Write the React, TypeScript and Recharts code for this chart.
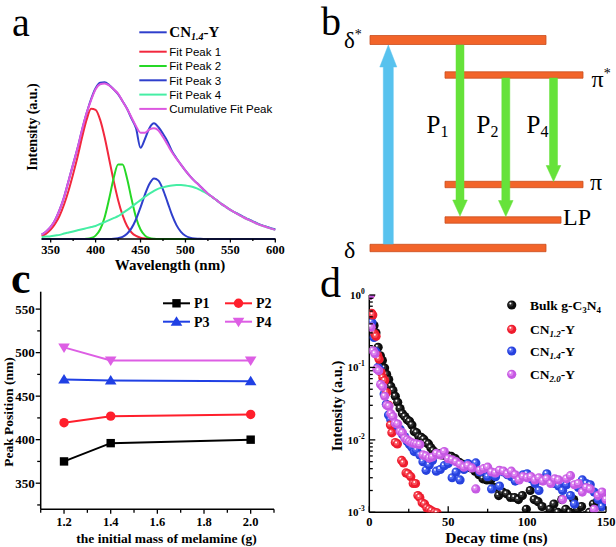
import React from 'react';
import {
  LineChart, Line, XAxis, YAxis, ScatterChart, Scatter, ComposedChart, ReferenceArea, ReferenceLine,
} from 'recharts';

const SERIF = '"Liberation Serif", "Times New Roman", serif';
const SANS = '"Liberation Sans", Arial, sans-serif';

// ---------- (a) PL spectrum of CN1.4-Y and the Gaussian fit
const wavelength = [340, 345, 350, 355, 360, 365, 370, 375, 380, 385, 390, 395, 400, 405, 410, 415, 420, 425, 430, 435, 440, 445, 450, 455, 460, 465, 470, 475, 480, 485, 490, 495, 500, 505, 510, 515, 520, 525, 530, 535, 540, 545, 550, 555, 560, 565, 570, 575, 580, 585, 590, 595, 600];
const cn14y = [0.02, 0.035, 0.056, 0.088, 0.135, 0.195, 0.27, 0.345, 0.42, 0.505, 0.58, 0.645, 0.695, 0.72, 0.722, 0.71, 0.69, 0.668, 0.635, 0.6, 0.555, 0.51, 0.42, 0.462, 0.512, 0.533, 0.515, 0.485, 0.45, 0.405, 0.372, 0.343, 0.315, 0.29, 0.268, 0.249, 0.228, 0.209, 0.193, 0.178, 0.162, 0.148, 0.134, 0.123, 0.112, 0.101, 0.091, 0.081, 0.072, 0.064, 0.057, 0.05, 0.045];
const fitPeak1 = [0.013, 0.025, 0.043, 0.07, 0.108, 0.16, 0.225, 0.3, 0.38, 0.47, 0.55, 0.6, 0.595, 0.55, 0.47, 0.37, 0.27, 0.18, 0.11, 0.06, 0.03, 0.014, 0.006, 0.002, 0, 0, 0, 0, 0, 0, 0, 0, 0, 0, 0, 0, 0, 0, 0, 0, 0, 0, 0, 0, 0, 0, 0, 0, 0, 0, 0, 0, 0];
const fitPeak2 = [0, 0, 0, 0, 0, 0, 0, 0, 0, 0, 0.001, 0.0045, 0.0155, 0.0435, 0.099, 0.184, 0.279, 0.343, 0.343, 0.279, 0.184, 0.099, 0.0435, 0.0155, 0.0045, 0.001, 0, 0, 0, 0, 0, 0, 0, 0, 0, 0, 0, 0, 0, 0, 0, 0, 0, 0, 0, 0, 0, 0, 0, 0, 0, 0, 0];
const fitPeak3 = [0, 0, 0, 0, 0, 0, 0, 0, 0, 0, 0, 0, 0, 0, 0, 0, 0.001, 0.004, 0.01, 0.024, 0.05, 0.091, 0.146, 0.206, 0.255, 0.279, 0.269, 0.228, 0.17, 0.111, 0.064, 0.033, 0.015, 0.006, 0.002, 0.001, 0, 0, 0, 0, 0, 0, 0, 0, 0, 0, 0, 0, 0, 0, 0, 0, 0];
const fitPeak4 = [0.009, 0.011, 0.013, 0.016, 0.019, 0.025, 0.03, 0.035, 0.04, 0.045, 0.05, 0.055, 0.06, 0.069, 0.078, 0.087, 0.096, 0.105, 0.119, 0.133, 0.148, 0.164, 0.179, 0.195, 0.209, 0.222, 0.232, 0.238, 0.243, 0.247, 0.249, 0.249, 0.247, 0.243, 0.237, 0.229, 0.218, 0.207, 0.192, 0.178, 0.162, 0.148, 0.134, 0.122, 0.11, 0.099, 0.089, 0.079, 0.07, 0.062, 0.055, 0.048, 0.042];
const cumulativeFit = [0.02, 0.035, 0.056, 0.088, 0.135, 0.195, 0.27, 0.345, 0.42, 0.505, 0.58, 0.64, 0.69, 0.713, 0.717, 0.708, 0.69, 0.67, 0.635, 0.6, 0.56, 0.52, 0.49, 0.49, 0.505, 0.51, 0.5, 0.47, 0.435, 0.4, 0.37, 0.343, 0.315, 0.29, 0.268, 0.249, 0.228, 0.209, 0.193, 0.178, 0.162, 0.148, 0.134, 0.122, 0.11, 0.099, 0.089, 0.079, 0.07, 0.062, 0.055, 0.048, 0.042];
const aTicks = [350, 375, 400, 425, 450, 475, 500, 525, 550, 575, 600];
const aSeries = [
  { key: 'cn', label: 'CN1.4-Y', color: '#2f3fcc' },
  { key: 'f1', label: 'Fit Peak 1', color: '#f2283e' },
  { key: 'f2', label: 'Fit Peak 2', color: '#26d826' },
  { key: 'f3', label: 'Fit Peak 3', color: '#2f3fcc' },
  { key: 'f4', label: 'Fit Peak 4', color: '#45eea4' },
  { key: 'cum', label: 'Cumulative Fit Peak', color: '#dc58e0' },
];

// ---------- (b) energy levels and transitions
const levelName = ['δ*', 'π*', 'π', 'LP', 'δ'];
const levelEnergy = [208, 173, 63.5, 28, 0];
const levelFrom = [60, 135, 135, 135, 60];
const levelTo = [236, 273, 273, 251, 236];
const transName = ['excitation', 'P1', 'P2', 'P4'];
const transX = [78.3, 150, 195.8, 243.5];
const transStart = [4, 203, 170, 170];
const transEnd = [203, 32, 31.5, 66.5];

// ---------- (c) peak positions vs melamine mass
const massG = [1.2, 1.4, 2.0];
const peakP1 = [375, 396, 400];
const peakP2 = [419.5, 427, 429];
const peakP3 = [469, 468, 467];
const peakP4 = [506, 491, 491];
const cXTicks = [1.1, 1.2, 1.3, 1.4, 1.5, 1.6, 1.7, 1.8, 1.9, 2.0, 2.1];
const cYTicks = [325, 350, 375, 400, 425, 450, 475, 500, 525, 550];

// ---------- (d) PL decay
const bulkT = [0.5, 1.8, 3.0, 4.2, 5.6, 7.0, 8.3, 9.7, 11.0, 12.3, 13.6, 15.0, 16.5, 18.0, 19.5, 21.0, 22.5, 24.0, 25.5, 27.0, 28.5, 30.0, 31.5, 33.0, 34.5, 36.0, 37.5, 39.0, 40.5, 42.0, 44, 46, 48, 50, 52, 54.5, 57, 59.5, 62, 64.5, 67, 69.5, 72, 74.5, 77, 79.5, 82, 84.5, 87, 89.5, 92, 94.5, 97, 99.5, 102, 104.5, 107, 109.5, 112, 114.5, 117, 119.5, 122, 124.5, 127, 129.5, 132, 134.5, 137, 139.5, 142, 144.5, 147, 149.5];
const bulkI = [1.0, 0.52, 0.38, 0.3, 0.19, 0.145, 0.125, 0.098, 0.08, 0.068, 0.055, 0.048, 0.04, 0.033, 0.027, 0.023, 0.021, 0.019, 0.018, 0.016, 0.013, 0.0125, 0.011, 0.0108, 0.0102, 0.0092, 0.0088, 0.0078, 0.0071, 0.0066, 0.0064, 0.0062, 0.0061, 0.006, 0.0059, 0.0055, 0.0049, 0.0046, 0.0044, 0.0041, 0.0037, 0.0033, 0.0029, 0.0028, 0.0028, 0.0022, 0.0017, 0.0019, 0.0018, 0.0016, 0.0016, 0.0015, 0.0017, 0.0011, 0.002, 0.0015, 0.0014, 0.0012, 0.0009, 0.0011, 0.0013, 0.001, 0.0015, 0.0011, 0.001, 0.0015, 0.0011, 0.0012, 0.0009, 0.001, 0.0013, 0.0014, 0.0012, 0.0017];
const cn12T = [0.5, 1.5, 2.2, 3.5, 4.3, 5.4, 6.2, 7.5, 8.6, 9.7, 11.0, 12.3, 13.4, 14.3, 16.5, 17.8, 20.5, 21.7, 23.3, 24.5, 26.3, 27.8, 29.3, 30.8, 32.0, 33.5, 35.0, 36.5, 38.0, 39.5, 41.5, 43.0];
const cn12I = [1.0, 0.56, 0.53, 0.29, 0.27, 0.145, 0.13, 0.085, 0.072, 0.066, 0.045, 0.03, 0.016, 0.0125, 0.0092, 0.0088, 0.0052, 0.0048, 0.0035, 0.0034, 0.0031, 0.0025, 0.0025, 0.0017, 0.0016, 0.00135, 0.0013, 0.00115, 0.0011, 0.00105, 0.001, 0.00098];
const cn14T = [0.5, 1.6, 3.0, 4.2, 5.5, 6.8, 8.0, 9.4, 10.8, 12.2, 13.6, 15.0, 16.5, 18.0, 19.5, 21.0, 22.5, 24.0, 25.5, 27.0, 28.5, 30.0, 32, 34, 36, 38, 40, 42.5, 45, 47.5, 50, 52.5, 55, 57.5, 60, 62.5, 65, 67.5, 70, 72.5, 75, 77.5, 80, 82.5, 85, 87.5, 90, 92.5, 95, 97.5, 100, 102.5, 105, 107.5, 110, 112.5, 115, 117.5, 120, 122.5, 125, 127.5, 130, 132.5, 135, 137.5, 140, 142.5, 145, 147.5, 150];
const cn14I = [1.0, 0.42, 0.26, 0.165, 0.1, 0.092, 0.06, 0.043, 0.031, 0.022, 0.019, 0.018, 0.016, 0.015, 0.014, 0.012, 0.011, 0.0095, 0.0086, 0.0079, 0.0069, 0.0072, 0.0062, 0.005, 0.0038, 0.0045, 0.0052, 0.0037, 0.0039, 0.0044, 0.0047, 0.003, 0.0036, 0.0028, 0.0039, 0.0047, 0.0042, 0.0048, 0.0036, 0.0038, 0.0031, 0.0021, 0.0031, 0.0023, 0.0036, 0.0033, 0.0031, 0.0027, 0.003, 0.0033, 0.0034, 0.0029, 0.0025, 0.002, 0.0029, 0.0034, 0.0027, 0.0025, 0.0023, 0.002, 0.0024, 0.0017, 0.0013, 0.0022, 0.0028, 0.0025, 0.0024, 0.0019, 0.0015, 0.0012, 0.0014];
const cn20T = [0.4, 1.2, 2.4, 3.6, 4.8, 6.0, 7.2, 8.5, 9.8, 11.1, 12.4, 13.7, 15.0, 16.5, 18.0, 19.5, 21.0, 22.5, 24.0, 25.5, 27.0, 28.5, 30.0, 32, 34, 36, 38, 40, 42.5, 45, 47.5, 50, 52.5, 55, 57.5, 60, 62.5, 65, 67.5, 70, 72.5, 75, 77.5, 80, 82.5, 85, 87.5, 90, 92.5, 95, 97.5, 100, 102.5, 105, 107.5, 110, 112.5, 115, 117.5, 120, 122.5, 125, 127.5, 130, 132.5, 135, 137.5, 140, 142.5, 145, 147.5, 150];
const cn20I = [1.0, 0.36, 0.17, 0.155, 0.095, 0.09, 0.058, 0.054, 0.04, 0.03, 0.029, 0.023, 0.021, 0.017, 0.0165, 0.013, 0.0125, 0.0105, 0.01, 0.0095, 0.0091, 0.0089, 0.0088, 0.0086, 0.0062, 0.006, 0.0056, 0.0058, 0.0065, 0.0062, 0.0069, 0.0055, 0.0053, 0.005, 0.0046, 0.0042, 0.0044, 0.0041, 0.0021, 0.0038, 0.004, 0.0042, 0.0036, 0.0035, 0.0038, 0.0037, 0.0034, 0.0037, 0.0033, 0.0028, 0.0031, 0.003, 0.0031, 0.0028, 0.003, 0.0027, 0.0029, 0.0025, 0.0029, 0.0028, 0.0015, 0.0029, 0.0032, 0.0024, 0.0025, 0.0019, 0.0022, 0.0021, 0.0011, 0.0017, 0.0019, 0.0015];
const dXTicks = [0, 25, 50, 75, 100, 125, 150];
const dDecades = [0.001, 0.01, 0.1];
const dYTicks = [...dDecades.flatMap((d) => [1, 2, 3, 4, 5, 6, 7, 8, 9].map((m) => +(m * d).toPrecision(3))), 1];

const frame = { stroke: '#000', strokeWidth: 1.5 };

type TickOpts = {
  side: 'bottom' | 'left';
  inward: boolean;
  isMajor: (v: number) => boolean;
  label: (v: number) => React.ReactNode;
  majorLen: number;
  minorLen: number;
  gap: number;
  fontSize: number;
};

const makeTick = (o: TickOpts) => (props: any) => {
  const { x, y, payload } = props;
  const v = payload.value;
  const major = o.isMajor(v);
  const len = major ? o.majorLen : o.minorLen;
  const txt = { fontFamily: SERIF, fontWeight: 'bold' as const, fontSize: o.fontSize, fill: '#000' };
  if (o.side === 'bottom') {
    return (
      <g>
        <line x1={x} y1={y} x2={x} y2={o.inward ? y - len : y + len} stroke="#000" strokeWidth={1.3} />
        {major && <text x={x} y={y + o.gap} textAnchor="middle" {...txt}>{o.label(v)}</text>}
      </g>
    );
  }
  return (
    <g>
      <line x1={x} y1={y} x2={o.inward ? x + len : x - len} y2={y} stroke="#000" strokeWidth={1.3} />
      {major && <text x={x - o.gap} y={y} dy="0.35em" textAnchor="end" {...txt}>{o.label(v)}</text>}
    </g>
  );
};

const tickA = makeTick({ side: 'bottom', inward: false, isMajor: (v) => v % 50 === 0, label: (v) => String(v), majorLen: 3.5, minorLen: 2, gap: 14.5, fontSize: 12.5 });
const tickCX = makeTick({ side: 'bottom', inward: false, isMajor: (v) => Math.round(v * 10) % 2 === 0, label: (v) => v.toFixed(1), majorLen: 4.5, minorLen: 3.5, gap: 17, fontSize: 12.5 });
const tickCY = makeTick({ side: 'left', inward: false, isMajor: (v) => v % 50 === 0, label: (v) => String(v), majorLen: 5, minorLen: 3.5, gap: 6, fontSize: 13 });
const tickDX = makeTick({ side: 'bottom', inward: true, isMajor: (v) => v % 50 === 0, label: (v) => String(v), majorLen: 6, minorLen: 3.5, gap: 14, fontSize: 12.5 });
const tickDY = makeTick({
  side: 'left', inward: true,
  isMajor: (v) => Math.abs(Math.log10(v) - Math.round(Math.log10(v))) < 1e-6,
  label: (v) => (<><tspan>10</tspan><tspan fontSize={7.5} dy={-5}>{Math.round(Math.log10(v))}</tspan></>),
  majorLen: 6, minorLen: 3.5, gap: 4.5, fontSize: 11,
});

function Marker({ kind, cx, cy, color }: { kind: string; cx: number; cy: number; color: string }) {
  if (kind === 'square') return <rect x={cx - 4.2} y={cy - 4.2} width={8.4} height={8.4} fill={color} />;
  if (kind === 'circle') return <circle cx={cx} cy={cy} r={4.7} fill={color} />;
  if (kind === 'up') return <polygon points={`${cx},${cy - 5.5} ${cx + 5.8},${cy + 4} ${cx - 5.8},${cy + 4}`} fill={color} />;
  return <polygon points={`${cx},${cy + 5.5} ${cx + 5.8},${cy - 4} ${cx - 5.8},${cy - 4}`} fill={color} />;
}

function Sphere({ cx, cy, color, shade }: { cx: number; cy: number; color: string; shade: string }) {
  return (
    <g>
      <circle cx={cx} cy={cy} r={4.6} fill={color} />
      <circle cx={cx - 1} cy={cy - 1} r={2.6} fill={shade} opacity={0.6} />
      <circle cx={cx - 1.3} cy={cy - 1.5} r={1} fill="#fff" />
    </g>
  );
}

const cSeries = [
  { key: 'p1', label: 'P1', kind: 'square', color: '#000000' },
  { key: 'p2', label: 'P2', kind: 'circle', color: '#ff1f2c' },
  { key: 'p3', label: 'P3', kind: 'up', color: '#2040e4' },
  { key: 'p4', label: 'P4', kind: 'down', color: '#dd5ee4' },
];

const dSeries = [
  { key: 'bulk', t: bulkT, v: bulkI, color: '#0d0d0d', shade: '#4a4a4a' },
  { key: 'cn14', t: cn14T, v: cn14I, color: '#2742de', shade: '#6a80ff' },
  { key: 'cn12', t: cn12T, v: cn12I, color: '#ee1c2e', shade: '#ff7078' },
  { key: 'cn20', t: cn20T, v: cn20I, color: '#c659e3', shade: '#eda0f7' },
];

const arrowShape = (color: string, shaft: number, head: number, headLen: number) => (p: any) => {
  const { x1, y1, x2, y2 } = p;
  const dir = y2 > y1 ? 1 : -1;
  const hy = y2 - dir * headLen;
  const pts = [[x1 - shaft, y1], [x1 + shaft, y1], [x1 + shaft, hy], [x1 + head, hy], [x2, y2], [x1 - head, hy], [x1 - shaft, hy]]
    .map((q) => q.join(',')).join(' ');
  return <polygon points={pts} fill={color} stroke={color} strokeWidth={0.5} />;
};

export default function App() {
  const spectrum = wavelength.map((w, i) => ({
    w, cn: cn14y[i], f1: fitPeak1[i], f2: fitPeak2[i], f3: fitPeak3[i], f4: fitPeak4[i], cum: cumulativeFit[i],
  }));
  const peaks = massG.map((m, i) => ({ m, p1: peakP1[i], p2: peakP2[i], p3: peakP3[i], p4: peakP4[i] }));

  return (
    <div style={{ position: 'absolute', left: 0, top: 0, width: 616, height: 547, background: '#fff', overflow: 'hidden' }}>
      {/* (a) */}
      <div style={{ position: 'absolute', left: 0, top: 0 }}>
        <LineChart width={300} height={270} data={spectrum} margin={{ top: 22, right: 24.7, bottom: 11, left: 41.7 }}>
          <XAxis dataKey="w" type="number" domain={[340, 600]} ticks={aTicks} interval={0} height={20}
            tickSize={0} tickMargin={0} tickLine={false} axisLine={frame} tick={tickA} />
          <YAxis type="number" domain={[0, 1]} width={0} tick={false} tickLine={false} axisLine={frame} />
          <XAxis xAxisId="top" orientation="top" type="number" domain={[340, 600]} height={0} tick={false} tickLine={false} axisLine={frame} />
          <YAxis yAxisId="right" orientation="right" type="number" domain={[0, 1]} width={0} tick={false} tickLine={false} axisLine={frame} />
          {aSeries.map((s) => (
            <Line key={s.key} dataKey={s.key} type="monotone" stroke={s.color} strokeWidth={2} dot={false} isAnimationActive={false} />
          ))}
        </LineChart>
      </div>

      {/* (b) */}
      <div style={{ position: 'absolute', left: 310, top: 0 }}>
        <ComposedChart width={306} height={270} data={[]} margin={{ top: 0, right: 0, bottom: 0, left: 0 }}>
          <XAxis type="number" dataKey="x" domain={[0, 306]} hide allowDataOverflow />
          <YAxis type="number" domain={[-22, 248]} hide allowDataOverflow />
          {levelName.map((n, i) => {
            const half = i === 0 ? 4.5 : i === 4 ? 3.7 : 3.2;
            return (
              <ReferenceArea key={n} x1={levelFrom[i]} x2={levelTo[i]} y1={levelEnergy[i] - half} y2={levelEnergy[i] + half}
                fill="#f2642a" fillOpacity={1} stroke="#c94e1e" strokeWidth={0.8} />
            );
          })}
          {transName.map((n, i) => (
            <ReferenceLine key={n} segment={[{ x: transX[i], y: transStart[i] }, { x: transX[i], y: transEnd[i] }]}
              shape={i === 0 ? arrowShape('#58c2ee', 5, 8.5, 22) : arrowShape('#66e23a', 4, 7.3, 16)} />
          ))}
        </ComposedChart>
      </div>

      {/* (c) */}
      <div style={{ position: 'absolute', left: 0, top: 270 }}>
        <LineChart width={300} height={277} data={peaks} margin={{ top: 21.7, right: 26, bottom: 17.7, left: 0.7 }}>
          <XAxis dataKey="m" type="number" domain={[1.1, 2.1]} ticks={cXTicks} interval={0} height={20}
            tickSize={0} tickMargin={0} tickLine={false} axisLine={frame} tick={tickCX} />
          <YAxis type="number" domain={[320, 570]} ticks={cYTicks} interval={0} width={40}
            tickSize={0} tickMargin={0} tickLine={false} axisLine={frame} tick={tickCY} />
          <XAxis xAxisId="top" orientation="top" type="number" domain={[1.1, 2.1]} height={0} tick={false} tickLine={false} axisLine={frame} />
          <YAxis yAxisId="right" orientation="right" type="number" domain={[320, 570]} width={0} tick={false} tickLine={false} axisLine={frame} />
          {cSeries.map((s) => (
            <Line key={s.key} dataKey={s.key} type="linear" stroke={s.color} strokeWidth={2} isAnimationActive={false}
              dot={(p: any) => <Marker key={`${s.key}-${p.index}`} kind={s.kind} cx={p.cx} cy={p.cy} color={s.color} />} />
          ))}
        </LineChart>
      </div>

      {/* (d) */}
      <div style={{ position: 'absolute', left: 310, top: 270 }}>
        <ScatterChart width={306} height={277} margin={{ top: 25, right: 10, bottom: 14.7, left: 9.3 }}>
          <XAxis dataKey="t" type="number" domain={[0, 150]} ticks={dXTicks} interval={0} height={20} allowDataOverflow
            tickSize={0} tickMargin={0} tickLine={false} axisLine={frame} tick={tickDX} />
          <YAxis dataKey="v" type="number" scale="log" domain={[0.001, 1]} ticks={dYTicks} interval={0} width={50} allowDataOverflow
            tickSize={0} tickMargin={0} tickLine={false} axisLine={frame} tick={tickDY} />
          <XAxis xAxisId="top" orientation="top" type="number" domain={[0, 150]} height={0} tick={false} tickLine={false} axisLine={frame} />
          <YAxis yAxisId="right" orientation="right" type="number" domain={[0, 1]} width={0} tick={false} tickLine={false} axisLine={frame} />
          {dSeries.map((s) => (
            <Scatter key={s.key} data={s.t.map((t, i) => ({ t, v: s.v[i] }))} isAnimationActive={false}
              shape={(p: any) => <Sphere cx={p.cx} cy={p.cy} color={s.color} shade={s.shade} />} />
          ))}
        </ScatterChart>
      </div>

      {/* texts, legends, panel letters */}
      <svg width={616} height={547} style={{ position: 'absolute', left: 0, top: 0, pointerEvents: 'none' }}>
        <g fontFamily={SERIF} fill="#000">
          <text x={12} y={36} fontSize={40}>a</text>
          <text x={321} y={35} fontSize={40}>b</text>
          <text x={11} y={293.3} fontSize={44} fontWeight="bold">c</text>
          <text x={320} y={296.7} fontSize={42}>d</text>
        </g>

        {/* (a) labels and legend */}
        <g fontFamily={SERIF} fontWeight="bold" fill="#000">
          <text x={32} y={127} fontSize={14} textAnchor="middle" dominantBaseline="central" transform="rotate(-90 32 127)">Intensity (a.u.)</text>
          <text x={170} y={269.5} fontSize={15} textAnchor="middle">Wavelength (nm)</text>
        </g>
        {aSeries.map((s, i) => {
          const y = i === 0 ? 32.3 : 51.7 + (i - 1) * 14.3;
          return (
            <g key={s.key}>
              <line x1={139.3} x2={166.7} y1={y} y2={y} stroke={s.color} strokeWidth={2} />
              {i === 0 ? (
                <text x={169.3} y={y + 5} fontFamily={SERIF} fontWeight="bold" fontSize={15}>
                  CN<tspan fontSize={10} fontStyle="italic" dy={3}>1.4</tspan><tspan dy={-3}>-Y</tspan>
                </text>
              ) : (
                <text x={169.3} y={y + 4.2} fontFamily={SANS} fontSize={11.5}>{s.label}</text>
              )}
            </g>
          );
        })}

        {/* (b) labels */}
        <g fontFamily={SERIF} fill="#000">
          <text x={344} y={48.3} fontSize={23}>δ<tspan fontSize={14} dy={-9}>*</tspan></text>
          <text x={591.5} y={86.7} fontSize={24}>π<tspan fontSize={14} dy={-9}>*</tspan></text>
          <text x={590} y={190} fontSize={24}>π</text>
          <text x={563} y={225} fontSize={24}>LP</text>
          <text x={344} y={258} fontSize={24}>δ</text>
          <text x={426.5} y={133.3} fontSize={25}>P<tspan fontSize={16} dy={4}>1</tspan></text>
          <text x={476.5} y={133.3} fontSize={25}>P<tspan fontSize={16} dy={4}>2</tspan></text>
          <text x={526.5} y={133.3} fontSize={25}>P<tspan fontSize={16} dy={4}>4</tspan></text>
        </g>

        {/* (c) labels and legend */}
        <g fontFamily={SERIF} fontWeight="bold" fill="#000">
          <text x={8} y={412} fontSize={13.5} textAnchor="middle" dominantBaseline="central" transform="rotate(-90 8 412)">Peak Position (nm)</text>
          <text x={166.5} y={542.5} fontSize={13.5} textAnchor="middle">the initial mass of melamine (g)</text>
        </g>
        {cSeries.map((s, i) => {
          const x0 = i % 2 === 0 ? 163 : 225;
          const y = i < 2 ? 303.3 : 321.7;
          return (
            <g key={s.key}>
              <line x1={x0} x2={x0 + 27} y1={y} y2={y} stroke={s.color} strokeWidth={2} />
              <Marker kind={s.kind} cx={x0 + 13.5} cy={y} color={s.color} />
              <text x={x0 + 31} y={y + 5} fontFamily={SERIF} fontWeight="bold" fontSize={14}>{s.label}</text>
            </g>
          );
        })}

        {/* (d) labels and legend */}
        <g fontFamily={SERIF} fontWeight="bold" fill="#000">
          <text x={336.5} y={406} fontSize={14.5} textAnchor="middle" dominantBaseline="central" transform="rotate(-90 336.5 406)">Intensity (a.u.)</text>
          <text x={496.5} y={543} fontSize={15.5} textAnchor="middle">Decay time (ns)</text>
        </g>
        {[
          { s: dSeries[0], y: 305 },
          { s: dSeries[2], y: 329.3 },
          { s: dSeries[1], y: 351 },
          { s: dSeries[3], y: 374.3 },
        ].map(({ s, y }, i) => (
          <g key={s.key}>
            <Sphere cx={511.7} cy={y} color={s.color} shade={s.shade} />
            <text x={530} y={y + 4.5} fontFamily={SERIF} fontWeight="bold" fontSize={13.5}>
              {i === 0 ? (
                <>Bulk g-C<tspan fontSize={9} dy={3}>3</tspan><tspan dy={-3}>N</tspan><tspan fontSize={9} dy={3}>4</tspan></>
              ) : (
                <>CN<tspan fontSize={9} fontStyle="italic" dy={3}>{i === 1 ? '1.2' : i === 2 ? '1.4' : '2.0'}</tspan><tspan dy={-3}>-Y</tspan></>
              )}
            </text>
          </g>
        ))}
      </svg>
    </div>
  );
}
